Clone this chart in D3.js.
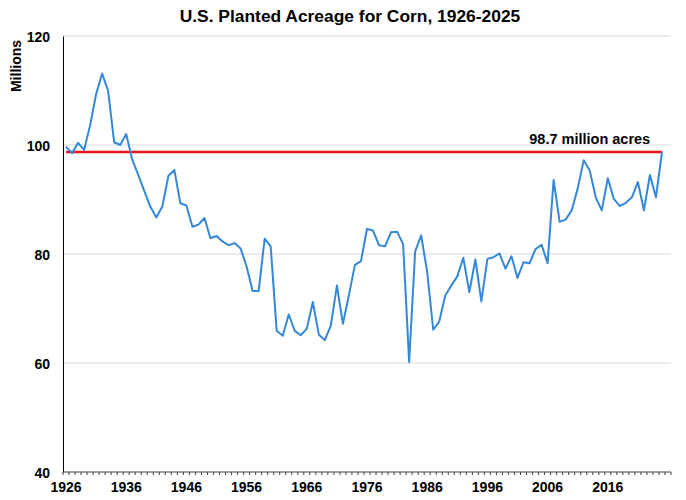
<!DOCTYPE html>
<html>
<head>
<meta charset="utf-8">
<script src="https://cdn.jsdelivr.net/npm/d3@7"></script>
<style>
  body { margin: 0; background: #fff; }
  svg text { font-family: "Liberation Sans", Arial, sans-serif; font-weight: bold; fill: #000; }
</style>
</head>
<body>
<div id="chart"></div>
<script>
// planted acreage, million acres, 1926-2025
const startYear = 1926;
const acres = [
  99.7, 98.5, 100.4, 99.1, 103.6, 109.3, 113.1, 109.9, 100.5, 100.0,
  102.0, 97.3, 94.5, 91.6, 88.7, 86.7, 88.7, 94.3, 95.4, 89.3,
  88.9, 85.0, 85.4, 86.6, 82.9, 83.3, 82.3, 81.6, 82.0, 81.0,
  77.7, 73.2, 73.2, 82.8, 81.4, 65.9, 65.0, 68.9, 65.9, 65.1,
  66.3, 71.2, 65.2, 64.2, 66.9, 74.2, 67.2, 72.5, 78.0, 78.7,
  84.6, 84.3, 81.6, 81.4, 84.0, 84.1, 81.8, 60.2, 80.5, 83.4,
  76.7, 66.1, 67.6, 72.4, 74.2, 75.9, 79.3, 73.0, 79.0, 71.3,
  79.1, 79.4, 80.1, 77.3, 79.6, 75.6, 78.5, 78.3, 80.9, 81.7,
  78.3, 93.6, 85.9, 86.3, 88.0, 92.0, 97.2, 95.3, 90.4, 88.0,
  93.9, 90.1, 88.8, 89.4, 90.4, 93.2, 88.0, 94.5, 90.4, 98.7
];
const years = acres.map((v, i) => startYear + i);
const refValue = 98.7;
const refLabel = "98.7 million acres";
const yTicks = [40, 60, 80, 100, 120];
const xTickYears = [1926, 1936, 1946, 1956, 1966, 1976, 1986, 1996, 2006, 2016];

const width = 686, height = 500;
const margin = { top: 36, right: 15, bottom: 28, left: 63 };

const svg = d3.select("#chart").append("svg")
  .attr("width", width)
  .attr("height", height);

// one spare category at the end, points sit between tick marks
const x = d3.scaleLinear()
  .domain([startYear - 0.5, startYear + acres.length + 0.5])
  .range([margin.left, width - margin.right]);
const y = d3.scaleLinear()
  .domain([40, 120])
  .range([height - margin.bottom, margin.top]);

// gridlines
svg.append("g")
  .selectAll("line")
  .data(yTicks.filter(d => d > 40))
  .enter().append("line")
  .attr("x1", x.range()[0])
  .attr("x2", x.range()[1])
  .attr("y1", d => y(d))
  .attr("y2", d => y(d))
  .attr("stroke", "#d9d9d9")
  .attr("stroke-width", 1);

// y axis
const yAxis = svg.append("g")
  .attr("transform", `translate(${margin.left},0)`)
  .call(d3.axisLeft(y).tickValues(yTicks).tickSize(0).tickPadding(13));
yAxis.select(".domain").attr("stroke", "#000").attr("stroke-width", 1);
yAxis.selectAll("text").style("font-size", "14px").attr("dy", "0.36em");

// x axis with minor ticks between each year
const xAxis = svg.append("g")
  .attr("transform", `translate(0,${y(40)})`);
xAxis.append("line")
  .attr("x1", x.range()[0])
  .attr("x2", x.range()[1])
  .attr("stroke", "#444")
  .attr("stroke-width", 1);
xAxis.selectAll(".minor")
  .data(d3.range(acres.length + 2))
  .enter().append("line")
  .attr("class", "minor")
  .attr("x1", d => x(startYear - 0.5 + d))
  .attr("x2", d => x(startYear - 0.5 + d))
  .attr("y1", 0)
  .attr("y2", 3)
  .attr("stroke", "#444")
  .attr("stroke-width", 1);
xAxis.selectAll(".lbl")
  .data(xTickYears)
  .enter().append("text")
  .attr("class", "lbl")
  .attr("x", d => x(d))
  .attr("y", 20)
  .attr("text-anchor", "middle")
  .style("font-size", "14px")
  .text(d => d);

// reference line
svg.append("path")
  .datum(years)
  .attr("fill", "none")
  .attr("stroke", "#e8141c")
  .attr("stroke-width", 2.5)
  .attr("d", d3.line().x(d => x(d)).y(() => y(refValue)));

svg.append("text")
  .attr("x", x(2013))
  .attr("y", y(refValue) - 8)
  .attr("text-anchor", "middle")
  .style("font-size", "14.5px")
  .text(refLabel);

// acreage line
svg.append("path")
  .datum(acres)
  .attr("fill", "none")
  .attr("stroke", "#3388da")
  .attr("stroke-width", 2)
  .attr("stroke-linejoin", "round")
  .attr("d", d3.line().x((d, i) => x(years[i])).y(d => y(d)));

// title and axis title
svg.append("text")
  .attr("x", 350)
  .attr("y", 22)
  .attr("text-anchor", "middle")
  .style("font-size", "17.4px")
  .text("U.S. Planted Acreage for Corn, 1926-2025");

svg.append("text")
  .attr("transform", "translate(21,66) rotate(-90)")
  .attr("text-anchor", "middle")
  .style("font-size", "14px")
  .text("Millions");
</script>
</body>
</html>
